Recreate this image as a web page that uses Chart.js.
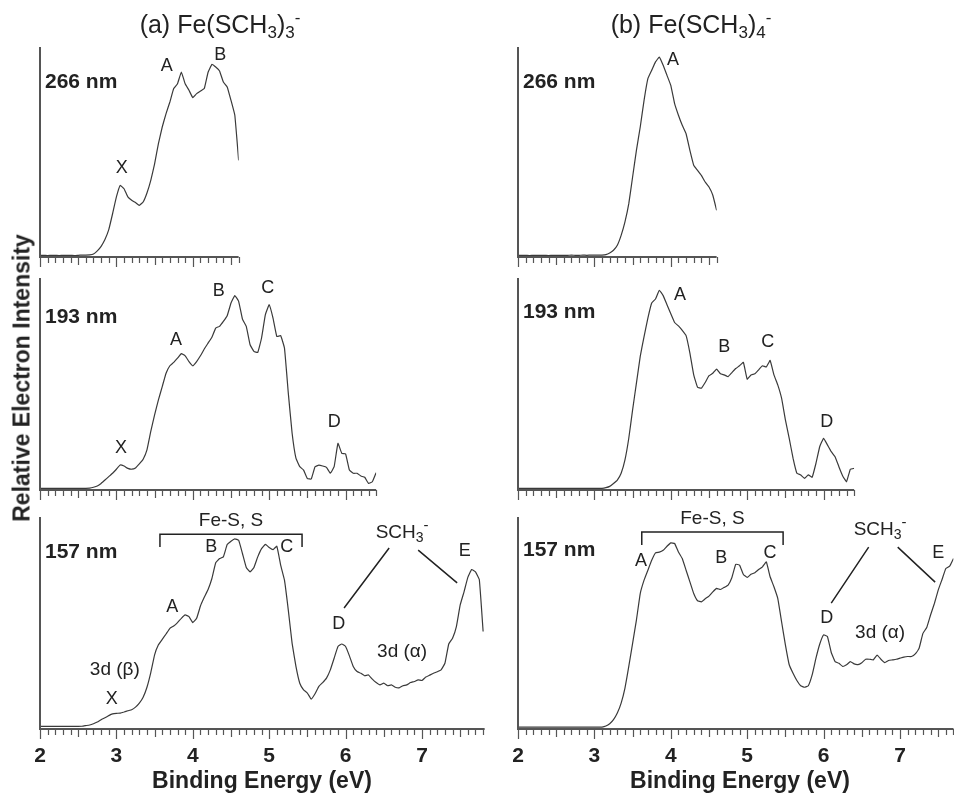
<!DOCTYPE html>
<html>
<head>
<meta charset="utf-8">
<script src="https://cdn.jsdelivr.net/npm/chart.js@4.4.1/dist/chart.umd.min.js"></script>
<style>
  body { margin: 0; background: #fff; }
  #fig { position: relative; width: 954px; height: 794px; overflow: hidden;
         font-family: Arial, "Liberation Sans", Helvetica, sans-serif; color: #222; }
  #fig canvas { position: absolute; left: 0; top: 0; }
  .title { position: absolute; top: 10px; font-size: 25px; white-space: nowrap; transform: translateX(-50%); }
  .title sub { font-size: 17px; vertical-align: -5px; line-height: 0; }
  .title sup { font-size: 17px; vertical-align: 10px; line-height: 0; }
  .xlab { position: absolute; top: 767px; font-size: 23px; font-weight: bold; white-space: nowrap; transform: translateX(-50%); }
  .ylab { position: absolute; left: 22px; top: 378px; font-size: 23px; font-weight: bold; white-space: nowrap;
          transform: translate(-50%, -50%) rotate(-90deg); }
</style>
</head>
<body>
<div id="fig">
  <canvas id="tl" width="954" height="794"></canvas>
  <canvas id="tr" width="954" height="794"></canvas>
  <canvas id="ml" width="954" height="794"></canvas>
  <canvas id="mr" width="954" height="794"></canvas>
  <canvas id="bl" width="954" height="794"></canvas>
  <canvas id="br" width="954" height="794"></canvas>
  <div class="title" style="left:220px">(a) Fe(SCH<sub>3</sub>)<sub>3</sub><sup>-</sup></div>
  <div class="title" style="left:691px">(b) Fe(SCH<sub>3</sub>)<sub>4</sub><sup>-</sup></div>
  <div class="xlab" style="left:262px">Binding Energy (eV)</div>
  <div class="xlab" style="left:740px">Binding Energy (eV)</div>
  <div class="ylab">Relative Electron Intensity</div>
</div>
<script>
// binding energy grid: every spectrum is sampled from 2.00 eV in 0.05 eV steps
const E_START = 2.0;
const E_STEP = 0.05;
const tickLabels = [2, 3, 4, 5, 6, 7];

// (a) Fe(SCH3)3-  relative intensity, 0 = baseline, 100 = top of axis
const fe3_266 = [0.8,0.8,0.7,0.8,0.8,0.7,0.8,0.8,0.8,0.7,0.8,0.9,0.9,
  1.0,1.4,2.9,5.1,8.3,13,20.6,28.6,34.1,32.5,28.6,27.0,25.9,24.6,26.2,30.5,36.5,44.4,
  54,61.9,68.3,73.8,80.2,82.5,88.1,82.5,79.4,75.9,77.8,79,80.2,88,91.7,90.5,88.6,83.3,
  81,74.6,67.5,46];
const fe3_193 = [0.8,0.8,0.8,0.8,0.8,0.8,0.8,0.8,0.8,0.8,0.8,0.8,0.8,
  0.9,1.3,1.9,3.1,4.7,6.3,7.9,9.8,11.8,11.3,10.2,9.8,10.4,12.3,14.5,18.9,27.6,35.4,
  42.5,48.8,55.1,58.6,60.2,62.2,64.3,63.3,60.6,58.6,60.6,63.3,66.5,69.3,72.1,76.4,77.2,
  79.5,82.2,88.2,91.7,89,80.6,77.2,68.5,65.4,64.9,71.7,82.7,87.4,81.1,72.4,72.8,66.9,
  45.7,26.8,15,11,9.4,5.4,5.2,11,11.7,11.3,10.7,7.9,11,22,17.3,17,9.4,7.9,7.9,6.6,6,
  3.1,3.9,8.2];
const fe3_157 = [1.25,1.25,1.2,1.25,1.3,1.25,1.2,1.25,1.25,1.3,1.25,1.3,
  1.6,1.9,2.5,3.3,4.4,5.3,6.3,7.1,7.4,7.5,8,8.6,9.1,10.3,12.2,15,19.7,26.6,35,39.7,
  42.3,44.8,47.5,48.6,50.2,52.2,53.8,53,50.2,52.2,58,62.1,65.8,71,78.4,80.4,81.2,87,
  88.6,89.7,89,82.8,76.2,74.1,76.2,81.2,85.1,87.1,85.6,84.6,86.2,77.3,70.2,56.1,40.4,
  29.5,21.6,18.5,16.9,14.1,16.6,20.1,21.9,24,27.9,33.4,38.9,40.1,38.9,34.5,29.5,27.1,
  26.3,25.1,25.5,23.5,21.9,20.8,21.6,20.4,20.8,19.7,19.4,20.4,20.8,21.9,22.4,23.2,
  22.9,24.5,25.4,26.3,27,27.9,31,40.1,42.8,48.3,58.5,64.7,71.5,75.2,74.1,70.5,46];

// (b) Fe(SCH3)4-
const fe4_266 = [0.8,0.8,0.8,0.7,0.8,0.8,0.8,0.8,0.7,0.8,0.8,0.8,0.8,0.8,0.9,0.8,0.8,
  0.9,0.8,0.9,0.9,0.9,0.9,
  1.1,1.9,3.2,5.6,10.3,16.7,25.4,38.1,50.8,61.9,74.6,84.9,88.9,92.9,95.2,91.3,86.5,
  81.7,73,67.5,62.7,58.7,50.8,43.7,41.3,38.9,35.7,33.3,29.4,22.2];
const fe4_193 = [0.8,0.8,0.8,0.8,0.8,0.8,0.8,0.8,0.8,0.8,0.8,0.8,0.8,0.8,0.8,0.8,0.8,
  0.8,0.8,0.8,0.8,0.8,0.8,
  1.1,1.7,3.1,4.7,7.9,14.2,24.4,37.8,50.4,63,72.4,81.1,88.2,90.1,94.2,91.7,87.4,83.1,
  79,77.4,75.3,72.8,64.6,54.3,48.5,48,50.7,53.9,55.1,57,54.8,54.3,53.5,55.4,57.3,58.6,
  60.2,52.3,54.3,54.8,56.7,58.6,58,61.1,54.3,49.6,43.3,33.1,24.4,15,7.9,7.1,5.5,7.1,
  6,12.6,20.5,24.4,21.3,18.1,15.7,11,6.6,3.9,9.8,10.2];
const fe4_157 = [0.9,0.9,0.9,0.9,0.9,0.9,0.9,0.9,0.9,0.9,0.9,0.9,0.9,0.9,0.9,0.9,0.9,
  0.9,0.9,0.9,0.9,0.9,0.9,
  1.4,2.5,4.4,7.5,12.2,19.3,29.5,40.4,51.4,63.9,70.2,74.9,79.6,83.1,83.4,84.3,86.2,
  87.8,87.5,83.5,80.4,74.9,69.4,63.9,60.5,60,61.4,62.7,64.7,66.3,65.8,66.8,67.9,71.5,
  77.7,77.3,72.9,71.5,73,73.7,75.2,76.5,78.8,71.8,67.1,61.6,50.6,39.7,30.3,26.3,22.9,
  20.4,19.7,20.4,25.5,33.4,40.1,44.4,43.6,36.1,31.8,31,29.5,30.3,31.8,30.7,30.4,31.3,
  32.9,32.9,32.6,34.9,32.9,31.3,32.3,32.6,32.9,33.4,33.9,34.2,34.2,35.4,38.1,45.1,
  47.9,53.8,59.2,65.5,70.5,75.7,76.8,80.4];

const W = 954, H = 794;
const PX_PER_EV = 76.4;
const colLeft = [40, 518];
const rowBox = [[47, 257], [278, 490], [517, 729]];
const FONT = 'Arial, "Liberation Sans", Helvetica, sans-serif';

function richText(ctx, parts, cx, cy) {
  let total = 0;
  parts.forEach(p => { ctx.font = p.size + 'px ' + FONT; total += ctx.measureText(p.t).width; });
  let x = cx - total / 2;
  ctx.textAlign = 'left';
  parts.forEach(p => {
    ctx.font = p.size + 'px ' + FONT;
    ctx.fillText(p.t, x, cy + (p.dy || 0));
    x += ctx.measureText(p.t).width;
  });
}

const sch3 = [{ t: 'SCH', size: 19 }, { t: '3', size: 14, dy: 5 }, { t: '-', size: 15, dy: -7 }];

const decor = {
  id: 'decor',
  afterDraw(chart, args, o) {
    const { ctx, chartArea: a, scales: { x, y } } = chart;
    const px = e => x.getPixelForValue(e);
    const py = v => y.getPixelForValue(v);
    ctx.save();
    // axes
    ctx.strokeStyle = '#555';
    ctx.lineWidth = 2;
    ctx.beginPath();
    ctx.moveTo(a.left, a.top);
    ctx.lineTo(a.left, a.bottom);
    ctx.lineTo(a.right, a.bottom);
    ctx.stroke();
    ctx.lineWidth = 1.2;
    ctx.beginPath();
    for (let k = 20; k <= Math.round(x.max * 10); k++) {
      const xp = Math.round(px(k / 10)) + 0.5;
      const len = k % 10 === 0 ? 10 : (k % 5 === 0 ? 8 : 6);
      ctx.moveTo(xp, a.bottom);
      ctx.lineTo(xp, a.bottom + len);
    }
    ctx.stroke();
    ctx.fillStyle = '#222';
    ctx.textBaseline = 'middle';
    if (o.tickText) {
      ctx.font = 'bold 21px ' + FONT;
      ctx.textAlign = 'center';
      tickLabels.forEach(t => { if (t <= x.max) ctx.fillText(String(t), px(t), a.bottom + 27); });
    }
    // wavelength label
    ctx.font = 'bold 21px ' + FONT;
    ctx.textAlign = 'left';
    ctx.fillText(o.nm, a.left + 5, a.top + o.nmDy);
    // peak letters and notes
    ctx.textAlign = 'center';
    (o.notes || []).forEach(n => {
      ctx.font = (n.size || 18) + 'px ' + FONT;
      ctx.fillText(n.t, px(n.e), py(n.v));
    });
    ctx.strokeStyle = '#222';
    ctx.lineWidth = 1.5;
    if (o.bracket) {
      const b = o.bracket;
      ctx.beginPath();
      ctx.moveTo(px(b.e1), py(b.v2));
      ctx.lineTo(px(b.e1), py(b.v1));
      ctx.lineTo(px(b.e2), py(b.v1));
      ctx.lineTo(px(b.e2), py(b.v2));
      ctx.stroke();
      ctx.font = '19px ' + FONT;
      ctx.fillText('Fe-S, S', (px(b.e1) + px(b.e2)) / 2, py(b.v1) - 13);
    }
    if (o.sch) {
      const s = o.sch;
      richText(ctx, sch3, px(s.e), py(s.v));
      ctx.beginPath();
      s.lines.forEach(l => { ctx.moveTo(px(l[0]), py(l[1])); ctx.lineTo(px(l[2]), py(l[3])); });
      ctx.stroke();
    }
    ctx.restore();
  }
};

function panel(id, vals, col, row, maxE, deco) {
  const left = colLeft[col];
  const right = left + (maxE - E_START) * PX_PER_EV;
  const [top, bottom] = rowBox[row];
  const pts = vals.map((v, i) => ({ x: E_START + i * E_STEP, y: v }));
  new Chart(document.getElementById(id), {
    type: 'line',
    data: { datasets: [{ data: pts, borderColor: '#3a3a3a', borderWidth: 1.2, pointRadius: 0,
                         tension: 0.1, fill: false }] },
    options: {
      responsive: false, animation: false, events: [],
      layout: { padding: { left: left, top: top, right: W - right, bottom: H - bottom } },
      scales: {
        x: { type: 'linear', min: E_START, max: maxE, display: false },
        y: { min: 0, max: 100, display: false }
      },
      plugins: { legend: { display: false }, tooltip: { enabled: false }, decor: deco }
    },
    plugins: [decor]
  });
}

panel('tl', fe3_266, 0, 0, 4.6, {
  nm: '266 nm', nmDy: 35,
  notes: [{ t: 'X', e: 3.07, v: 42.4 }, { t: 'A', e: 3.66, v: 91 }, { t: 'B', e: 4.36, v: 96.2 }]
});
panel('tr', fe4_266, 1, 0, 4.6, {
  nm: '266 nm', nmDy: 35,
  notes: [{ t: 'A', e: 4.03, v: 93.8 }]
});
panel('ml', fe3_193, 0, 1, 6.4, {
  nm: '193 nm', nmDy: 39,
  notes: [{ t: 'X', e: 3.06, v: 19.8 }, { t: 'A', e: 3.78, v: 70.8 }, { t: 'B', e: 4.34, v: 93.9 },
          { t: 'C', e: 4.98, v: 95.3 }, { t: 'D', e: 5.85, v: 32.1 }]
});
panel('mr', fe4_193, 1, 1, 6.4, {
  nm: '193 nm', nmDy: 34,
  notes: [{ t: 'A', e: 4.12, v: 92 }, { t: 'B', e: 4.70, v: 67.5 }, { t: 'C', e: 5.27, v: 69.8 },
          { t: 'D', e: 6.04, v: 32.1 }]
});
panel('bl', fe3_157, 0, 2, 7.82, {
  nm: '157 nm', nmDy: 35, tickText: true,
  notes: [{ t: 'B', e: 4.24, v: 85.8 }, { t: 'C', e: 5.23, v: 85.8 }, { t: 'A', e: 3.73, v: 57.5 },
          { t: 'X', e: 2.94, v: 14.2 }, { t: '3d (\u03b2)', e: 2.98, v: 27.8, size: 19 },
          { t: 'D', e: 5.91, v: 49.5 }, { t: '3d (\u03b1)', e: 6.74, v: 36.3, size: 19 },
          { t: 'E', e: 7.56, v: 84 }],
  bracket: { e1: 3.57, e2: 5.43, v1: 91.9, v2: 85.8 },
  sch: { e: 6.74, v: 92.5, lines: [[6.57, 85.4, 5.98, 57.1], [6.95, 84.4, 7.46, 68.9]] }
});
panel('br', fe4_157, 1, 2, 7.7, {
  nm: '157 nm', nmDy: 33, tickText: true,
  notes: [{ t: 'A', e: 3.61, v: 79.2 }, { t: 'B', e: 4.66, v: 80.7 }, { t: 'C', e: 5.30, v: 83 },
          { t: 'D', e: 6.04, v: 52.4 }, { t: '3d (\u03b1)', e: 6.74, v: 45.3, size: 19 },
          { t: 'E', e: 7.50, v: 83 }],
  bracket: { e1: 3.62, e2: 5.47, v1: 92.9, v2: 86.8 },
  sch: { e: 6.74, v: 93.9, lines: [[6.59, 85.8, 6.10, 59.4], [6.97, 85.8, 7.46, 69.3]] }
});
</script>
</body>
</html>
